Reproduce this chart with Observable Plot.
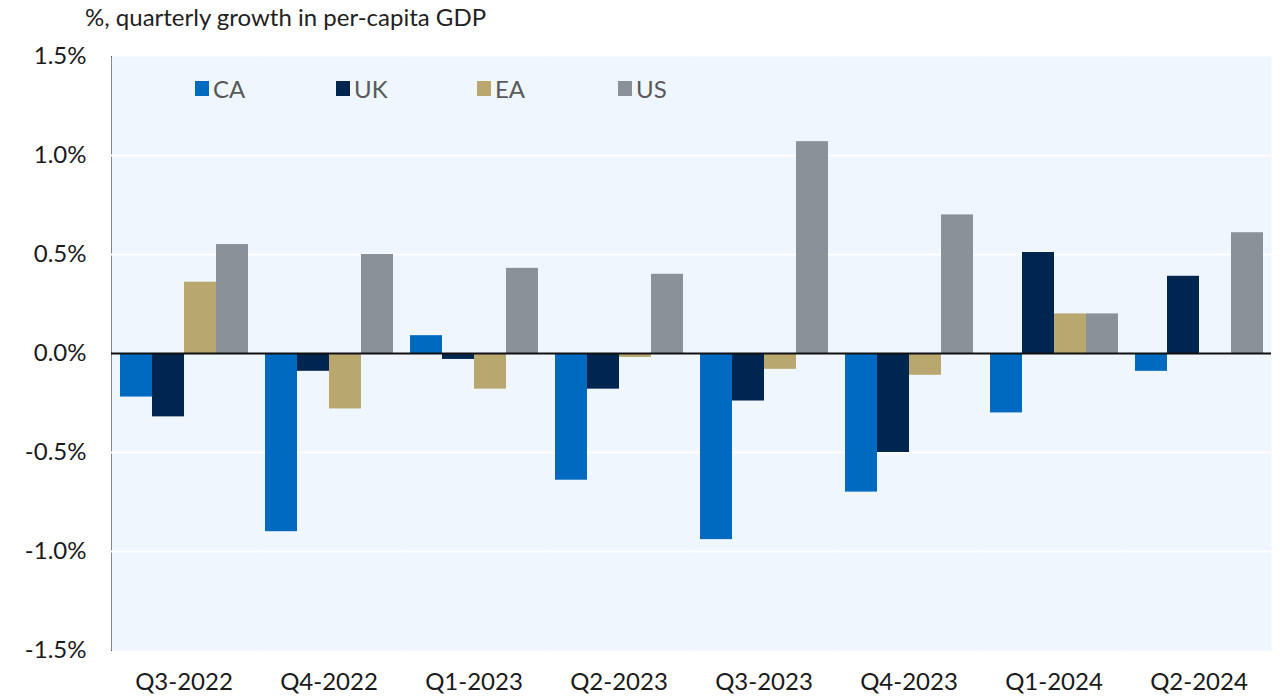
<!DOCTYPE html>
<html>
<head>
<meta charset="utf-8">
<script src="https://cdn.jsdelivr.net/npm/d3@7"></script>
<script src="https://cdn.jsdelivr.net/npm/@observablehq/plot@0.6"></script>
<style>
  html, body { margin: 0; padding: 0; background: #ffffff; }
  #wrap { position: relative; width: 1281px; height: 699px; font-family: Lato, "Open Sans", sans-serif; }
  #title { height: 36px; line-height: 34px; font-size: 24px; color: #222; padding-left: 85px; box-sizing: border-box; white-space: nowrap; }
  #legend { position: absolute; left: 195px; top: 74px; display: flex; font-size: 24px; color: #595959; }
  .item { width: 141px; display: flex; align-items: center; height: 28px; }
  .sw { width: 14px; height: 15px; margin-right: 4px; }
</style>
</head>
<body>
<div id="wrap">
  <div id="title">%, quarterly growth in per-capita GDP</div>
  <div id="chart"></div>
  <div id="legend"></div>
</div>
<script>
const quarters = ["Q3-2022", "Q4-2022", "Q1-2023", "Q2-2023", "Q3-2023", "Q4-2023", "Q1-2024", "Q2-2024"];
const countries = ["CA", "UK", "EA", "US"];
const colors = ["#0069c0", "#002650", "#b8a870", "#8a9199"];
const caValues = [-0.22, -0.90, 0.09, -0.64, -0.94, -0.70, -0.30, -0.09];
const ukValues = [-0.32, -0.09, -0.03, -0.18, -0.24, -0.50, 0.51, 0.39];
const eaValues = [0.36, -0.28, -0.18, -0.02, -0.08, -0.11, 0.20, 0.00];
const usValues = [0.55, 0.50, 0.43, 0.40, 1.07, 0.70, 0.20, 0.61];
const yTicks = [-1.5, -1.0, -0.5, 0.0, 0.5, 1.0, 1.5];
const gridValues = [-1.0, -0.5, 0.5, 1.0];

const series = [caValues, ukValues, eaValues, usValues];
const data = [];
quarters.forEach((q, i) => {
  countries.forEach((c, j) => {
    data.push({quarter: q, country: c, value: series[j][i]});
  });
});

const plot = Plot.plot({
  width: 1281,
  height: 663,
  marginTop: 20,
  marginBottom: 49,
  marginLeft: 110,
  marginRight: 10,
  style: {fontFamily: "Lato, 'Open Sans', sans-serif", fontSize: "24px", color: "#1a1a1a", background: "transparent", overflow: "visible"},
  fx: {domain: quarters, padding: 0, axis: "bottom", tickSize: 0, tickPadding: 22, label: null},
  x: {domain: countries, paddingInner: 0, paddingOuter: 0.25, axis: null},
  y: {domain: [-1.5, 1.5], ticks: yTicks, tickFormat: d => d.toFixed(1) + "%", tickSize: 0, tickPadding: 25, label: null, line: true},
  color: {domain: countries, range: colors},
  marks: [
    Plot.frame({fill: "#eff6fe", stroke: null}),
    Plot.ruleY(gridValues, {stroke: "#ffffff", strokeWidth: 2}),
    Plot.barY(data, {fx: "quarter", x: "country", y: "value", fill: "country"}),
    Plot.ruleY([0], {stroke: "#111111", strokeWidth: 2})
  ]
});
document.getElementById("chart").appendChild(plot);

const legend = document.getElementById("legend");
countries.forEach((c, j) => {
  const item = document.createElement("div");
  item.className = "item";
  const sw = document.createElement("div");
  sw.className = "sw";
  sw.style.background = colors[j];
  const t = document.createElement("span");
  t.textContent = c;
  item.appendChild(sw);
  item.appendChild(t);
  legend.appendChild(item);
});
</script>
</body>
</html>
